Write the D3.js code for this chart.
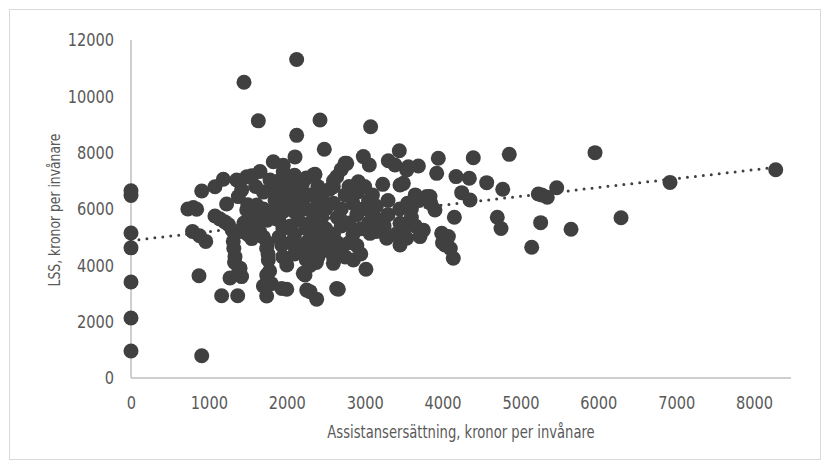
<!DOCTYPE html>
<html><head><meta charset="utf-8">
<script src="https://cdn.jsdelivr.net/npm/d3@7"></script>
<style>
html,body{margin:0;padding:0;background:#fff;}
text{font-family:"DejaVu Sans Condensed","DejaVu Sans",sans-serif;fill:#595959;}
</style></head><body>
<svg id="chart" width="830" height="469"></svg>
<script>
// Assistansersättning (x) and LSS (y), kronor per invånare
const assistans = [0,0,0,0,0,0,0,
730,800,843,790,880,960,873,908,908,1078,1185,1228,1078,1140,1200,1250,1300,1313,1320,1335,1330,1400,1380,1420,1271,1164,1370,1357,1421,1378,1486,1550,1656,1827,1955,2106,2127,2127,1451,1635,2427,2482,3077,
1486,1500,1550,1613,1570,1600,1650,1700,1750,1742,1763,1742,1700,1742,1800,1780,1760,1450,1420,1500,1550,1650,1700,1750,1800,1850,1880,1800,1700,1600,1900,1785,1955,
1935,2000,2000,1950,1935,1900,1950,1900,1950,1900,2000,2000,2050,2100,2170,2100,2050,2100,2050,2150,2100,2150,2050,2200,2150,2200,2250,2234,2212,2256,2298,2384,2250,2300,2300,2250,2350,2250,2300,2350,2250,2300,2363,2341,2400,2400,2400,2400,2400,2400,2380,
2450,2500,2500,2450,2500,2450,2550,2600,2641,2598,2748,2700,2770,2598,2641,2662,2600,2550,2650,2600,2700,2650,2600,2700,2750,2700,2750,2855,2800,2850,2800,2900,2850,2919,2906,2800,2900,2950,2950,2980,
2983,3060,3017,3069,3050,3100,3050,3150,3100,3000,3150,3200,3232,3283,3250,3300,3300,3304,3390,3445,3454,3497,3454,3454,3540,3400,3500,3450,3550,3600,3650,3711,3690,3561,3540,3700,3650,3600,3753,
3797,3839,3903,3946,3925,3989,4075,4032,4138,4152,4173,4246,4344,4353,4395,3850,4000,4100,
4567,4773,4703,4751,4857,5145,5230,5273,5345,5260,5466,5650,5958,6292,6921,8278];
const lss = [6650,6480,5150,4620,3410,2130,960,
6000,6050,5990,5200,5050,4850,3630,790,6640,6790,7055,6180,5750,5650,5550,5450,5250,4850,4600,4300,4100,3900,3750,3600,3550,2920,2920,7030,6680,6440,7145,7180,7330,7680,7550,7850,8615,11310,10500,9130,9160,8120,8920,
5965,6150,5800,6140,5370,5500,5200,5000,4800,4600,4190,3655,3265,2910,3350,3800,4400,5500,5200,5100,4950,5800,6000,5600,5900,6300,6500,6700,6600,6800,7000,7030,7325,
3180,3150,4010,4300,4720,5000,5300,5600,5900,6200,6400,6800,7000,7200,4660,4400,4800,5100,5400,5600,5900,6100,6200,6300,6600,6900,7100,3655,3715,3120,3065,2800,4200,4000,4500,4800,5000,5300,5500,5800,6000,6500,7230,7205,6800,6200,5600,5200,4700,4300,4100,
4500,4900,5300,5700,6000,6400,6700,7000,7145,6790,7620,7400,7620,4070,3180,3150,4300,4600,4800,5100,5400,5700,6200,6000,6500,4600,4300,4190,4800,5100,5500,5800,6200,6970,6600,6800,4700,4400,5300,6000,
7860,7560,3860,5135,5500,5800,6300,6100,6500,6800,5200,5600,6875,4960,5400,5800,6300,7715,7560,8070,6850,6910,5490,4720,4960,5100,5300,6000,6200,5700,5400,5020,7525,7500,7385,6300,6500,6000,5250,
6440,6440,5965,7800,7265,5135,5020,4720,4250,5705,7150,6580,7090,6320,7820,6200,4800,4600,
6935,6700,5705,5310,7940,4640,6530,6500,6415,5515,6755,5280,8000,5690,6945,7395];
// linear trend line
const trendX = [0, 8278];
const trendY = [4880, 7480];
const xTicks = [0,1000,2000,3000,4000,5000,6000,7000,8000];
const yTicks = [0,2000,4000,6000,8000,10000,12000];
const xTitle = "Assistansersättning, kronor per invånare";
const yTitle = "LSS, kronor per invånare";

const svg = d3.select("#chart");
svg.append("rect").attr("x",9.5).attr("y",9.5).attr("width",811).attr("height",450)
  .attr("fill","#fff").attr("stroke","#d9d9d9").attr("stroke-width",1);

const x = d3.scaleLinear().domain([0,8500]).range([131,793]);
const y = d3.scaleLinear().domain([0,12000]).range([378,40]);

// axis lines
svg.append("line").attr("x1",x(0)).attr("x2",x(0)).attr("y1",y(12000)).attr("y2",y(0))
  .attr("stroke","#bfbfbf").attr("stroke-width",1.5);
svg.append("line").attr("x1",x(0)).attr("x2",791).attr("y1",y(0)).attr("y2",y(0))
  .attr("stroke","#bfbfbf").attr("stroke-width",1.5);

const sx = 0.9;
const xAxis = svg.append("g").attr("transform",`translate(0,${y(0)})`)
  .call(d3.axisBottom(x).tickValues(xTicks).tickSize(0).tickPadding(18).tickFormat(d3.format("d")));
const yAxis = svg.append("g").attr("transform",`translate(${x(0)},0)`)
  .call(d3.axisLeft(y).tickValues(yTicks).tickSize(0).tickPadding(17).tickFormat(d3.format("d")));
[xAxis,yAxis].forEach(g=>{g.select(".domain").remove();
  g.selectAll("text").attr("font-size",18).attr("fill","#595959")
   .style("font-family",'"DejaVu Sans Condensed","DejaVu Sans",sans-serif');});
xAxis.selectAll("text").attr("transform",`scale(${sx},1)`);
yAxis.selectAll("text").attr("x",-17/sx).attr("transform",`scale(${sx},1)`);

svg.append("text").attr("transform",`translate(461,438) scale(0.86,1)`).attr("text-anchor","middle")
  .attr("font-size",17).text(xTitle);
svg.append("text").attr("transform",`translate(60,210) rotate(-90) scale(0.86,1)`).attr("text-anchor","middle")
  .attr("font-size",16).text(yTitle);

const pts = assistans.map((v,i)=>[v,lss[i]]);

svg.append("line").attr("x1",x(trendX[0])).attr("y1",y(trendY[0]))
  .attr("x2",x(trendX[1])).attr("y2",y(trendY[1]))
  .attr("stroke","#404040").attr("stroke-width",3).attr("stroke-linecap","round")
  .attr("stroke-dasharray","0,8");

svg.append("g").selectAll("circle").data(pts).join("circle")
  .attr("cx",d=>x(d[0])).attr("cy",d=>y(d[1])).attr("r",7.5).attr("fill","#404040");
</script></body></html>
